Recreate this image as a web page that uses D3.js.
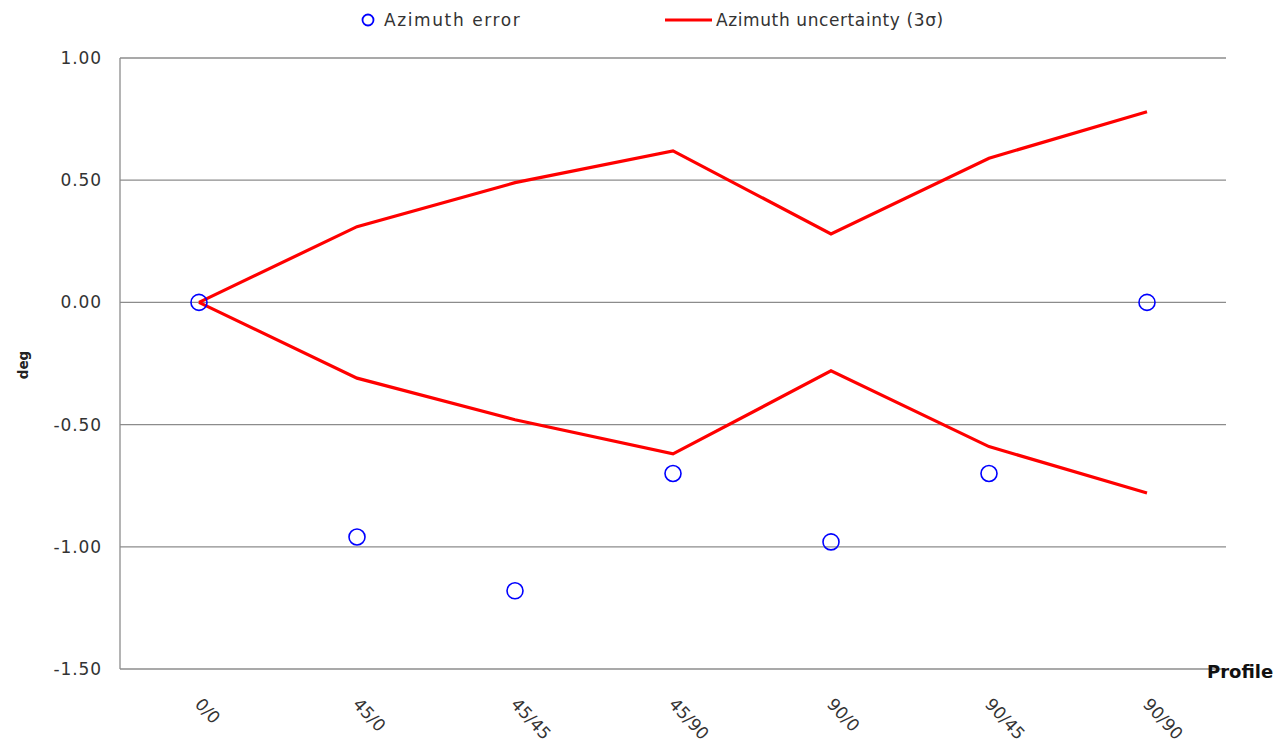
<!DOCTYPE html>
<html>
<head>
<meta charset="utf-8">
<script src="https://cdn.jsdelivr.net/npm/d3@7"></script>
<style>
  body { margin: 0; background: #fff; }
  text { font-family: "DejaVu Sans", Verdana, sans-serif; }
</style>
</head>
<body>
<svg width="1280" height="752"></svg>
<script>
const svg = d3.select('svg');

const profiles = ['0/0', '45/0', '45/45', '45/90', '90/0', '90/45', '90/90'];
const azimuthError = [0, -0.96, -1.18, -0.70, -0.98, -0.70, 0];
const upperBound = [0, 0.31, 0.49, 0.62, 0.28, 0.59, 0.78];
const lowerBound = [0, -0.31, -0.48, -0.62, -0.28, -0.59, -0.78];
const yTicks = [1, 0.5, 0, -0.5, -1, -1.5];

const plotLeft = 120, plotRight = 1226, plotTop = 58, plotBottom = 669;

const x = d3.scaleBand().domain(profiles).range([plotLeft, plotRight]);
const y = d3.scaleLinear().domain([-1.5, 1]).range([plotBottom, plotTop]);
const cx = d => x(d) + x.bandwidth() / 2;
const fmt = d => d3.format('.2f')(d).replace('−', '-');

// gridlines
svg.selectAll('line.grid').data(yTicks)
  .enter().append('line')
  .attr('x1', plotLeft).attr('x2', plotRight)
  .attr('y1', d => y(d)).attr('y2', d => y(d))
  .attr('stroke', '#8c8c8c').attr('stroke-width', 1.3);

// left axis
svg.append('line')
  .attr('x1', plotLeft).attr('x2', plotLeft)
  .attr('y1', plotTop).attr('y2', plotBottom)
  .attr('stroke', '#8c8c8c').attr('stroke-width', 1.3);

svg.selectAll('text.ytick').data(yTicks)
  .enter().append('text')
  .attr('x', 102).attr('y', d => y(d) + 6)
  .attr('text-anchor', 'end')
  .attr('font-size', 17).attr('letter-spacing', 0.9).attr('fill', '#333')
  .text(fmt);

svg.selectAll('text.xtick').data(profiles)
  .enter().append('text')
  .attr('transform', d => `translate(${cx(d) - 5},${705}) rotate(47)`)
  .attr('font-size', 17).attr('fill', '#333')
  .text(d => d);

svg.append('text')
  .attr('transform', 'translate(28,365) rotate(-90)')
  .attr('text-anchor', 'middle')
  .attr('font-size', 13.5).attr('font-weight', 'bold').attr('fill', '#222')
  .text('deg');

svg.append('text')
  .attr('x', 1207).attr('y', 678)
  .attr('font-family', 'Roboto, sans-serif')
  .attr('font-size', 18).attr('font-weight', 'bold').attr('fill', '#111')
  .text('Profile');

// uncertainty lines
const line = d3.line().x((d, i) => cx(profiles[i])).y(d => y(d));
[upperBound, lowerBound].forEach(s => {
  svg.append('path')
    .attr('d', line(s))
    .attr('fill', 'none').attr('stroke', '#ff0000').attr('stroke-width', 3.2);
});

// error points
svg.selectAll('circle.pt').data(azimuthError)
  .enter().append('circle')
  .attr('cx', (d, i) => cx(profiles[i]))
  .attr('cy', d => y(d))
  .attr('r', 8)
  .attr('fill', 'none').attr('stroke', '#0000ff').attr('stroke-width', 1.6);

// legend
svg.append('circle')
  .attr('cx', 368).attr('cy', 20).attr('r', 5.5)
  .attr('fill', 'none').attr('stroke', '#0000ff').attr('stroke-width', 1.8);
svg.append('text')
  .attr('x', 384).attr('y', 26)
  .attr('font-size', 17).attr('letter-spacing', 1.6).attr('fill', '#333')
  .text('Azimuth error');
svg.append('line')
  .attr('x1', 665).attr('x2', 712).attr('y1', 20).attr('y2', 20)
  .attr('stroke', '#ff0000').attr('stroke-width', 3.2);
svg.append('text')
  .attr('x', 716).attr('y', 26)
  .attr('font-size', 17).attr('letter-spacing', 0.6).attr('fill', '#333')
  .text('Azimuth uncertainty (3σ)');
</script>
</body>
</html>
